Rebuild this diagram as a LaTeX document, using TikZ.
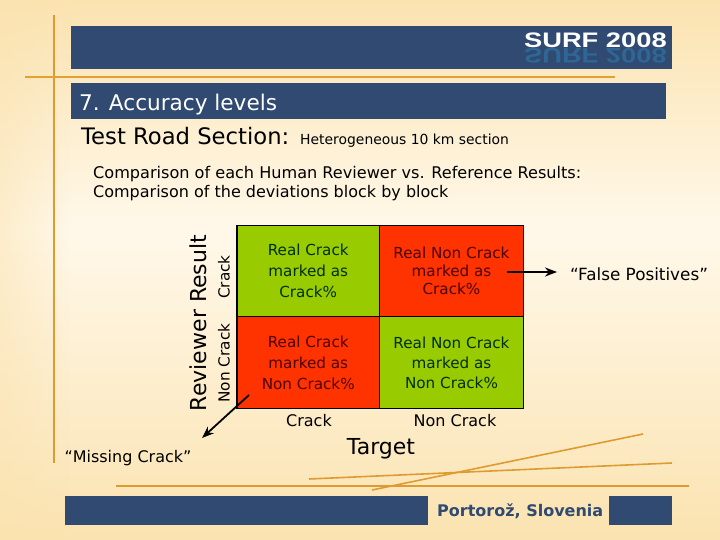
\documentclass[tikz,border=0pt]{standalone}
\usepackage{fontspec}
\setmainfont{DejaVu Sans}
\newfontfamily\logofont{Liberation Sans}
\usetikzlibrary{arrows.meta,fadings}

\definecolor{barblue}{HTML}{304A72}
\definecolor{mirrorblue}{HTML}{2E6795}
\definecolor{rule}{HTML}{E4A030}
\definecolor{cellgreen}{HTML}{99CC00}
\definecolor{cellred}{HTML}{FF3300}
\definecolor{paleback}{HTML}{FFF8EA}
\definecolor{warmback}{HTML}{FBE3B0}

\tikzset{
    bar/.style={fill=barblue, draw=none},
    rulestroke/.style={draw=rule!85!brown, line width=1.6pt},
    cell/.style={draw=black, line width=1.2pt, minimum width=142.5pt, minimum height=91.5pt,
        inner sep=0pt, align=center, font=\fontsize{15.2}{21}\selectfont},
    greencell/.style={cell, fill=cellgreen, text=black!80!green!90!black},
    redcell/.style={cell, fill=cellred, text=black!70!red},
    axislabel/.style={font=\fontsize{16}{18}\selectfont},
    pointer/.style={line width=1.8pt, -{Stealth[length=12pt,width=9pt]}}
}

\begin{document}
\begin{tikzpicture}[x=1pt,y=-1pt]
    \useasboundingbox (0,0) rectangle (720,540);
    % --- Background ---
    \shade[top color=warmback, bottom color=paleback] (0,0) rectangle (720,230);
    \shade[top color=paleback, bottom color=warmback] (0,230) rectangle (720,540);
    \fill[warmback, path fading=east, opacity=0.5] (0,0) rectangle (70,540);

    % Bars
    \fill[bar] (71,26) rectangle (672,69);
    \fill[bar] (71,83) rectangle (666,119);
    \fill[bar] (65,496) rectangle (428,525);
    \fill[bar] (609,496) rectangle (672,525);

    % Rules
    \draw[rulestroke] (54,15) -- (54,463);
    \draw[rulestroke, draw=rule, line width=2pt] (25,77) -- (615,77);
    \draw[rulestroke] (116,486) -- (689,486);
    \draw[rulestroke] (309,479) -- (672,463);
    \draw[rulestroke] (372,490) -- (643,434);

    % Logo
    \node[anchor=base east, inner sep=0pt, text=mirrorblue, yscale=-1, xscale=1.3, font=\logofont\bfseries\fontsize{21}{21}\selectfont] (logomirror) at (667,49) {SURF 2008};
    \node[anchor=base east, inner sep=0pt, text=white, xscale=1.3, font=\logofont\bfseries\fontsize{21}{21}\selectfont] (logo) at (667,47.5) {SURF 2008};

    % Headings
    \node[anchor=base west, inner sep=0pt, text=white, font=\fontsize{21.6}{24}\selectfont] (title) at (79,110.5) {7. Accuracy levels};
    \node[anchor=base west, inner sep=0pt, font=\fontsize{22.7}{24}\selectfont] (road) at (81,144.5) {Test Road Section:};
    \node[anchor=base west, inner sep=0pt, font=\fontsize{13.9}{16}\selectfont] (hetero) at (300,144.5) {Heterogeneous 10 km section};
    \node[anchor=base west, inner sep=0pt, font=\fontsize{16.1}{18}\selectfont] (compone) at (93,179) {Comparison of each Human Reviewer vs. Reference Results:};
    \node[anchor=base west, inner sep=0pt, font=\fontsize{16}{18}\selectfont] (comptwo) at (93,197.5) {Comparison of the deviations block by block};

    % Matrix cells
    \node[greencell] (tp) at (308.25,271) {Real Crack\\marked as\\Crack\%};
    \node[redcell, minimum width=144pt, font=\fontsize{15.2}{18}\selectfont] (fp) at (451.5,271) {Real Non Crack\\marked as\\Crack\%};
    \node[redcell] (fn) at (308.25,362.5) {Real Crack\\marked as\\Non Crack\%};
    \node[greencell, minimum width=144pt, font=\fontsize{15.2}{20}\selectfont] (tn) at (451.5,362.5) {Real Non Crack\\marked as\\Non Crack\%};

    % Axis labels
    \node[axislabel, font=\fontsize{15.3}{18}\selectfont, rotate=90] (rowcrack) at (224,277) {Crack};
    \node[axislabel, font=\fontsize{15.3}{18}\selectfont, rotate=90] (rownon) at (224,363) {Non Crack};
    \node[rotate=90, font=\fontsize{22}{24}\selectfont] (reviewer) at (198,323) {Reviewer Result};
    \node[axislabel] (colcrack) at (309,421) {Crack};
    \node[axislabel] (colnon) at (455,421) {Non Crack};
    \node[font=\fontsize{22}{24}\selectfont] (target) at (381,449) {Target};

    % Callouts
    \node[axislabel, font=\fontsize{16.8}{18}\selectfont] (falsepos) at (639,274.5) {``False Positives''};
    \node[axislabel] (missing) at (128,458.5) {``Missing Crack''};
    \coordinate (fpstart) at (507,272);
    \coordinate (fpend) at (557,272);
    \coordinate (fnstart) at (249,395);
    \coordinate (fnend) at (202,438);
    \draw[pointer] (fpstart) -- (fpend);
    \draw[pointer] (fnstart) -- (fnend);

    % Venue
    \node[anchor=base west, inner sep=0pt, text=barblue, font=\bfseries\fontsize{16}{18}\selectfont] (venue) at (437,516) {Portorož, Slovenia};
\end{tikzpicture}
\end{document}
